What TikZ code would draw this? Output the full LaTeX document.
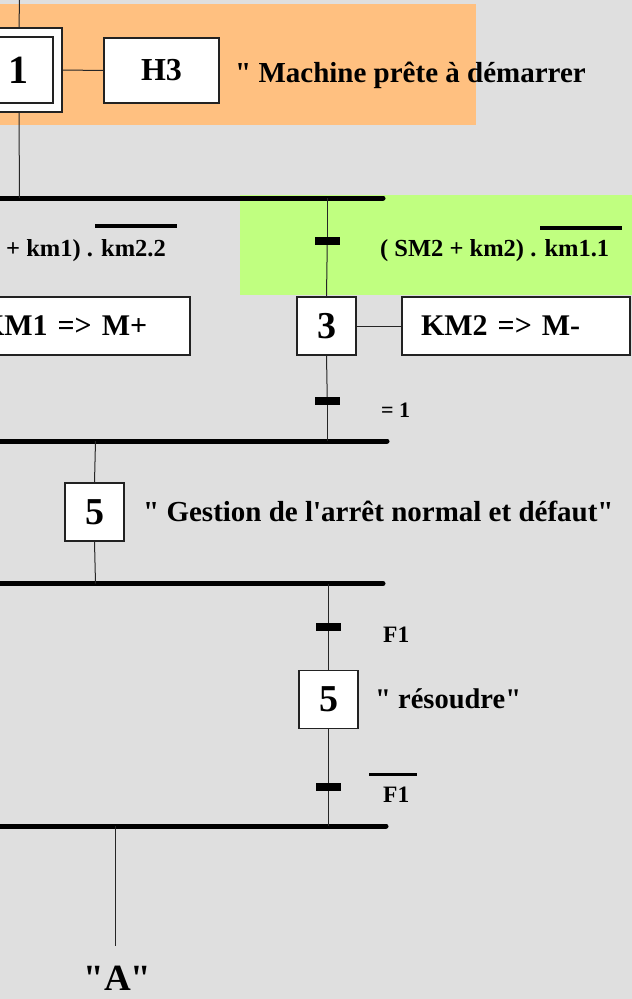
\documentclass[tikz,border=0pt]{standalone}
\usepackage{fontspec}
\setmainfont{Liberation Serif}[Ligatures=TeXOff]
\definecolor{bgc}{HTML}{DFDFDF}
\definecolor{orangec}{HTML}{FFC080}
\definecolor{greenc}{HTML}{C0FF80}
\definecolor{edgec}{HTML}{222222}
\tikzset{
  stepbox/.style={draw=edgec, line width=1.2pt, fill=white, minimum width=59pt, minimum height=58pt, inner sep=0pt, font=\fontsize{38}{40}\selectfont\bfseries},
  actbox/.style={draw=edgec, line width=1.2pt, fill=white, minimum height=58pt, inner xsep=19pt, inner ysep=0pt, text width=190pt, align=left, font=\fontsize{30}{32}\selectfont\bfseries},
  trbar/.style={fill=black, minimum width=25pt, minimum height=8pt, inner sep=0pt},
  bus/.style={line width=5pt, line cap=round},
  link/.style={draw=black!85, line width=1pt},
  ovl/.style={line width=4pt},
  lbl/.style={anchor=base west, inner sep=0pt, font=\bfseries},
}
\begin{document}
\begin{tikzpicture}[x=1pt,y=-1pt]
\useasboundingbox (0,0) rectangle (632,999);
\clip (0,0) rectangle (632,999);
\fill[bgc] (0,0) rectangle (632,999);
\fill[orangec] (0,4) rectangle (476,125);
\fill[greenc] (240,195) rectangle (632,295);

% coordinates
\coordinate (top) at (19.5,0);
\coordinate (b1l) at (19.5,198);
\coordinate (b1r) at (327.3,198);
\coordinate (b2r) at (327.3,441);
\coordinate (b2l) at (95.5,441);
\coordinate (b3l) at (95.5,583.5);
\coordinate (b3r) at (328.5,583.5);
\coordinate (b4r) at (328.5,826);
\coordinate (b4l) at (115,826);
\coordinate (aend) at (115,946);

% buses
\draw[bus] (-10,198) -- (383,198);
\draw[bus] (-10,441) -- (387,441);
\draw[bus] (-10,583.5) -- (383,583.5);
\draw[bus] (-10,826) -- (386,826);

% initial step 1
\node[draw=edgec, line width=1.2pt, fill=white, minimum width=86pt, minimum height=84pt, inner sep=0pt] (s1) at (19,70) {};
\node[draw=edgec, line width=1.2pt, minimum width=68pt, minimum height=66pt, inner sep=0pt, font=\fontsize{40}{42}\selectfont\bfseries] (s1i) at (19,70) {1};
\node[draw=edgec, line width=1.2pt, fill=white, minimum width=115pt, minimum height=65pt, inner sep=0pt, font=\fontsize{32}{34}\selectfont\bfseries] (h3) at (161.5,70.5) {H3};
\node[lbl, font=\fontsize{29}{31}\selectfont\bfseries] (t1txt) at (235,82) {" Machine prête à démarrer};
\draw[link] (top) -- (s1.north);
\draw[link] (s1.south) -- (b1l);
\draw[link] (s1.east) -- (h3.west);

% transition conditions
\node[lbl, font=\fontsize{24.5}{26}\selectfont\bfseries] (cl) at (6,256) {+ km1) . km2.2};
\draw[ovl] (95,225.5) -- (177,225.5);
\node[lbl, font=\fontsize{24.5}{26}\selectfont\bfseries] (cr) at (380,256) {( SM2 + km2) . km1.1};
\draw[ovl] (540,228) -- (622,228);

% right branch: step 3
\node[trbar] (tr1) at (327.3,241) {};
\node[stepbox] (s3) at (326.5,326) {3};
\node[actbox] (km2) at (516,326) {KM2 => M-};
\node[actbox] (km1) at (-38+114,326) {KM1 => M+};
\draw[link] (b1r) -- (tr1);
\draw[link] (tr1) -- (s3.north);
\draw[link] (s3.east) -- (km2.west);
\node[trbar] (tr2) at (327.3,401) {};
\draw[link] (s3.south) -- (tr2);
\draw[link] (tr2) -- (b2r);
\node[lbl, font=\fontsize{22}{24}\selectfont\bfseries] (eq1) at (381,417) {= 1};

% step 5
\node[stepbox] (s5) at (94.5,512) {5};
\draw[link] (b2l) -- (s5.north);
\draw[link] (s5.south) -- (b3l);
\node[lbl, font=\fontsize{29}{31}\selectfont\bfseries] (g5) at (143,521) {" Gestion de l'arrêt normal et défaut"};

% right branch: step 5 résoudre
\node[trbar] (tr3) at (328.5,627) {};
\node[stepbox] (s5b) at (328.5,699.5) {5};
\node[trbar] (tr4) at (328.5,787) {};
\draw[link] (b3r) -- (tr3);
\draw[link] (tr3) -- (s5b.north);
\draw[link] (s5b.south) -- (tr4);
\draw[link] (tr4) -- (b4r);
\node[lbl, font=\fontsize{23.5}{25}\selectfont\bfseries] (f1a) at (383,642) {F1};
\node[lbl, font=\fontsize{28.5}{30}\selectfont\bfseries] (res) at (375,708) {" résoudre"};
\node[lbl, font=\fontsize{23.5}{25}\selectfont\bfseries] (f1b) at (383,802) {F1};
\draw[line width=3pt] (369,774) -- (417,774);

% exit
\draw[link] (b4l) -- (aend);
\node[anchor=base, inner sep=0pt, font=\fontsize{37}{39}\selectfont\bfseries] (A) at (117.5,990) {"A"};
\end{tikzpicture}
\end{document}
